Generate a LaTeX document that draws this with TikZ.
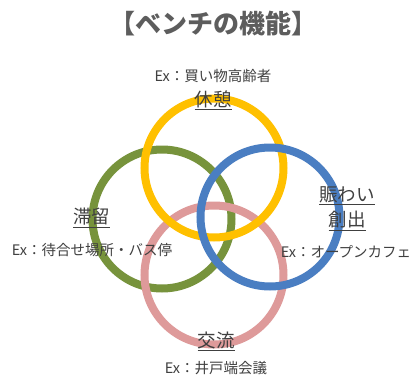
\documentclass[tikz,border=0pt]{standalone}
\usepackage{fontspec}
\newfontfamily\jp{Noto Sans CJK JP}
\definecolor{ringY}{HTML}{FFC000}
\definecolor{ringG}{HTML}{77933C}
\definecolor{ringB}{HTML}{4A7EC2}
\definecolor{ringP}{HTML}{DE9A9A}
\definecolor{txt}{HTML}{404040}
\begin{document}
\begin{tikzpicture}[x=1pt,y=-1pt,
  ring/.style={line width=8pt},
  lbl/.style={font=\jp\fontsize{18.5}{21}\selectfont, text=txt, inner sep=0pt, align=center},
  ex/.style={font=\jp\fontsize{14.5}{16}\selectfont, text=txt, inner sep=0pt},
  ttl/.style={font=\jp\bfseries\fontsize{26}{28}\selectfont, text=txt!85, inner sep=0pt}]
\useasboundingbox (0,0) rectangle (416,378);
\fill[white] (0,0) rectangle (416,378);
% rings
\draw[ring, ringG] (162,219) circle[radius=69.5];
\draw[ring, ringP] (214,275) circle[radius=69.5];
\draw[ring, ringY] (214,168) circle[radius=69.5];
\draw[ring, ringB] (270,217) circle[radius=69.5];
% title
\node[ttl] (title) at (214,24) {【ベンチの機能】};
% labels
\node[ex] (exA) at (213,76) {Ex：買い物高齢者};
\node[lbl] (kyu) at (213,100) {\underline{休憩}};
\node[lbl] (tai) at (92,218) {\underline{滞留}};
\node[ex] (exB) at (92,250) {Ex：待合せ場所・バス停};
\node[lbl] (nig) at (347,196) {\underline{賑わい}};
\node[lbl] (sou) at (347,221) {\underline{創出}};
\node[ex] (exC) at (346,252) {Ex：オープンカフェ};
\node[lbl] (kou) at (216,341) {\underline{交流}};
\node[ex] (exD) at (216,368) {Ex：井戸端会議};
\end{tikzpicture}
\end{document}
